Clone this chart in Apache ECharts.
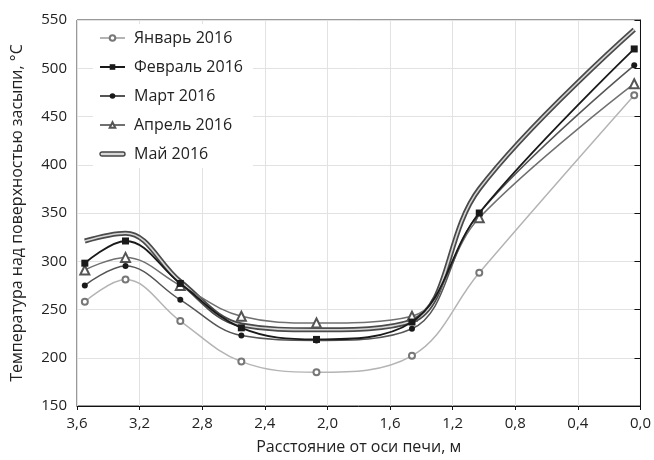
<!DOCTYPE html>
<html>
<head>
<meta charset="utf-8">
<script src="https://cdn.jsdelivr.net/npm/echarts@6/dist/echarts.min.js"></script>
<style>
  html, body { margin: 0; padding: 0; background: #fff; }
  #chart { width: 654px; height: 460px; }
</style>
</head>
<body>
<div id="chart"></div>
<script>
// Distance from the kiln axis, m
const distance = [3.55, 3.29, 2.94, 2.55, 2.07, 1.46, 1.03, 0.04];

// Temperature above the backfill surface, °C
const tempJan = [258, 281, 238, 196, 185, 202, 288, 472];
const tempFeb = [298, 321, 277, 231, 219, 237, 350, 520];
const tempMar = [275, 295, 260, 223, 218, 230, 350, 503];
const tempApr = [291, 304, 275, 243, 236, 243, 345, 484];
const tempMay = [321, 329, 279, 234, 229, 238, 375, 540];

const seriesNames = ['Январь 2016', 'Февраль 2016', 'Март 2016', 'Апрель 2016', 'Май 2016'];

const xTicks = { min: 0, max: 3.6, step: 0.4 };
const yTicks = { min: 150, max: 550, step: 50 };

function pairs(vals) {
  return distance.map((d, i) => [d, vals[i]]);
}

const FONT = '"Open Sans", "Noto Sans", sans-serif';
const SMOOTH = 0.38;

// thin capsule used as the legend key of the double-stroked line
const capsuleIcon = 'path://M2,0H23A2,2,0,0,1,23,4H2A2,2,0,0,1,2,0Z';

const chart = echarts.init(document.getElementById('chart'), null, { renderer: 'canvas' });

chart.setOption({
  backgroundColor: '#fff',
  animation: false,
  textStyle: { fontFamily: FONT },
  grid: {
    left: 77, right: 13, top: 20, bottom: 50,
    show: true, borderColor: '#333', borderWidth: 1
  },
  legend: {
    left: 93, top: 24,
    orient: 'vertical',
    backgroundColor: '#fff',
    padding: [6, 10, 6, 6],
    itemWidth: 25, itemHeight: 7, itemGap: 13,
    textStyle: { fontFamily: FONT, fontSize: 16, color: '#222', lineHeight: 16, padding: [0, 0, 0, 4] },
    data: [
      { name: seriesNames[0] },
      { name: seriesNames[1] },
      { name: seriesNames[2] },
      { name: seriesNames[3] },
      { name: seriesNames[4], icon: capsuleIcon,
        itemStyle: { color: '#d8d8d8', borderColor: '#444', borderWidth: 1.4 } }
    ]
  },
  xAxis: {
    type: 'value',
    inverse: true,
    min: xTicks.min, max: xTicks.max, interval: xTicks.step,
    name: 'Расстояние от оси печи, м',
    nameLocation: 'middle', nameGap: 33,
    nameTextStyle: { fontFamily: FONT, fontSize: 16, color: '#222' },
    axisLine: { show: true, lineStyle: { color: '#111', width: 1 } },
    axisTick: { show: true, inside: false, length: 4, lineStyle: { color: '#111' } },
    axisLabel: {
      fontFamily: FONT, fontSize: 15, color: '#222', margin: 10,
      formatter: v => v.toFixed(1).replace('.', ',')
    },
    splitLine: { show: true, lineStyle: { color: '#e2e2e2', width: 1 } }
  },
  yAxis: {
    type: 'value',
    min: yTicks.min, max: yTicks.max, interval: yTicks.step,
    name: 'Температура над поверхностью засыпи, °C',
    nameLocation: 'middle', nameGap: 52,
    nameTextStyle: { fontFamily: FONT, fontSize: 16, color: '#222' },
    axisLine: { show: true, lineStyle: { color: '#111', width: 1 } },
    axisTick: { show: true, inside: false, length: 6, lineStyle: { color: '#111' } },
    axisLabel: { fontFamily: FONT, fontSize: 15, color: '#222', margin: 10 },
    splitLine: { show: true, lineStyle: { color: '#e2e2e2', width: 1 } }
  },
  series: [
    {
      name: seriesNames[4], type: 'line', smooth: SMOOTH, data: pairs(tempMay),
      symbol: 'none', z: 2,
      lineStyle: { color: '#4a4a4a', width: 5 },
      itemStyle: { color: '#4a4a4a' }
    },
    {
      name: 'may-core', type: 'line', smooth: SMOOTH, data: pairs(tempMay),
      symbol: 'none', z: 3, silent: true,
      lineStyle: { color: '#d6d6d6', width: 1.6 }
    },
    {
      name: seriesNames[0], type: 'line', smooth: SMOOTH, data: pairs(tempJan),
      symbol: 'emptyCircle', symbolSize: 6, z: 4,
      lineStyle: { color: '#b4b4b4', width: 1.5 },
      itemStyle: { color: '#777', borderColor: '#777', borderWidth: 1 }
    },
    {
      name: seriesNames[3], type: 'line', smooth: SMOOTH, data: pairs(tempApr),
      symbol: 'emptyTriangle', symbolSize: 9, z: 5,
      lineStyle: { color: '#707070', width: 1.5 },
      itemStyle: { color: '#555', borderColor: '#555', borderWidth: 1 }
    },
    {
      name: seriesNames[2], type: 'line', smooth: SMOOTH, data: pairs(tempMar),
      symbol: 'circle', symbolSize: 6, z: 6,
      lineStyle: { color: '#555', width: 1.5 },
      itemStyle: { color: '#1a1a1a' }
    },
    {
      name: seriesNames[1], type: 'line', smooth: SMOOTH, data: pairs(tempFeb),
      symbol: 'rect', symbolSize: 7, z: 7,
      lineStyle: { color: '#1a1a1a', width: 1.8 },
      itemStyle: { color: '#1a1a1a' }
    }
  ]
});
</script>
</body>
</html>
